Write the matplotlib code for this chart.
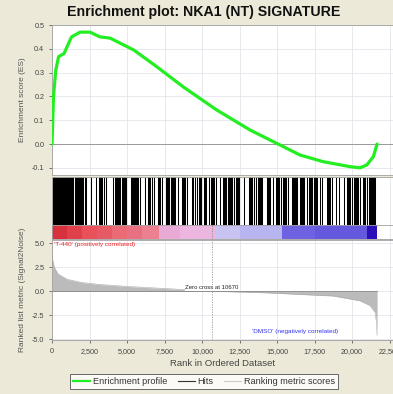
import matplotlib
matplotlib.use("Agg")
import matplotlib.pyplot as plt
from matplotlib.lines import Line2D
import numpy as np

plt.rcParams['font.family'] = ['Liberation Sans', 'DejaVu Sans']

# ---------------- data ----------------
title = "Enrichment plot: NKA1 (NT) SIGNATURE"
n_genes = 21670
zero_cross = 10670

es_rank = [0, 100, 250, 440, 800, 1300, 1870, 2530, 3200, 3870, 5450, 6980, 8750,
           10980, 13200, 15200, 16530, 18070, 19870, 20530, 20980, 21420, 21670]
es_value = [0.0, 0.2, 0.31, 0.367, 0.38, 0.45, 0.47, 0.47, 0.45, 0.445, 0.395, 0.325,
            0.24, 0.143, 0.059, -0.004, -0.046, -0.074, -0.095, -0.10, -0.088,
            -0.053, 0.0]

hits = [50, 110, 170, 230, 290, 350, 410, 480, 560, 620, 680, 740, 800, 860, 920,
        980, 1040, 1100, 1160, 1220, 1280, 1340, 1400, 1510, 1620, 1680, 1740, 1800,
        1860, 1920, 1980, 2080, 2180, 2250, 2600, 2900, 3150, 3220, 3290, 3350, 3480,
        3580, 4050, 4200, 4270, 4340, 4410, 4470, 4560, 4650, 4720, 4800, 4880, 4960,
        5250, 5320, 5400, 5480, 5550, 5620, 5690, 5760, 5870, 6200, 6420, 6490, 6560,
        6640, 6800, 7080, 7150, 7220, 7350, 7570, 7640, 7710, 7780, 7900, 8020, 8090,
        8160, 8220, 8400, 8640, 8710, 8780, 8850, 9000, 9350, 9420, 9500, 9650, 9780,
        9850, 9930, 10120, 10200, 10280, 10450, 10570, 10640, 10710, 10770, 10900,
        11200, 11370, 11440, 11510, 11580, 11700, 11820, 11890, 11960, 12020, 12130,
        12260, 12330, 12400, 12470, 12800, 13150, 13220, 13290, 13360, 13440, 13580,
        13700, 13770, 13840, 13910, 14020, 14330, 14400, 14470, 14540, 14700, 14930,
        15000, 15070, 15130, 15250, 15370, 15440, 15510, 15570, 15700, 15970, 16040,
        16110, 16180, 16250, 16330, 16550, 16620, 16690, 16760, 16830, 16970, 17100,
        17170, 17240, 17310, 17450, 17550, 17620, 17690, 17850, 18000, 18330, 18400,
        18470, 18530, 18650, 18900, 19150, 19450, 19660, 19730, 19800, 19860, 19980,
        20100, 20170, 20240, 20310, 20390, 20550, 20720, 20790, 20860, 20980, 21100,
        21170, 21240, 21310, 21380, 21450, 21520]

metric_rank = [0, 40, 150, 400, 1000, 2000, 3200, 5000, 7650, 10670, 14300, 18750,
               20530, 21200, 21530, 21620, 21670]
metric_value = [4.6, 3.3, 2.5, 1.8, 1.25, 0.9, 0.7, 0.5, 0.27, 0.0, -0.17, -0.5,
                -1.0, -1.5, -2.2, -3.2, -4.6]

strip_edges = [0, 1000, 2000, 3000, 4000, 5000, 6000, 7100, 8500, 10870,
               12500, 15300, 17500, 21000, 21670]
strip_colors = ["#D8303C", "#E0404A", "#E8505A", "#E65A66", "#EA6A76", "#E87080",
                "#EC8090", "#EAAAD6", "#ECB6E0", "#C8C4F2", "#B8B4F0", "#6E62E2",
                "#6458DC", "#2A10B8"]

xticks = [0, 2500, 5000, 7500, 10000, 12500, 15000, 17500, 20000, 22500]
xtick_labels = ["0", "2,500", "5,000", "7,500", "10,000", "12,500", "15,000",
                "17,500", "20,000", "22,500"]
es_ticks = [-0.1, 0.0, 0.1, 0.2, 0.3, 0.4, 0.5]
metric_ticks = [-5.0, -2.5, 0.0, 2.5, 5.0]

# ---------------- figure ----------------
W, H = 393, 394
fig = plt.figure(figsize=(W / 100, H / 100), dpi=100)
fig.patch.set_facecolor("#ECE9D8")

def frac(x0, y0, x1, y1):
    return [x0 / W, 1 - y1 / H, (x1 - x0) / W, (y1 - y0) / H]

XMAX = 22730
grid_c = "#E4E4EC"
spine_c = "#A0A0A0"
tick_c = "#444444"

def style(ax):
    ax.set_facecolor("white")
    for s in ax.spines.values():
        s.set_color(spine_c)
        s.set_linewidth(0.6)
    ax.tick_params(colors=tick_c, labelsize=5.2, length=2, width=0.5)
    ax.set_xlim(0, XMAX)
    ax.set_xticks(xticks)
    for v in xticks:
        ax.axvline(v, color=grid_c, lw=0.6, zorder=0)

# ES panel
ax1 = fig.add_axes(frac(52, 25, 393, 175))
style(ax1)
ax1.set_ylim(-0.13, 0.5)
ax1.set_yticks(es_ticks)
ax1.set_yticklabels(["%.1f" % v for v in es_ticks])
for v in es_ticks:
    ax1.axhline(v, color=grid_c, lw=0.6, zorder=0)
ax1.axhline(0, color="#999999", lw=0.7, zorder=1)
ax1.tick_params(labelbottom=False, bottom=False)
ax1.plot(es_rank, es_value, color="#22EE22", lw=2.3, zorder=3,
         solid_capstyle="round", solid_joinstyle="round")
ax1.set_ylabel("Enrichment score (ES)", fontsize=6, color="#555555", labelpad=4)
fig.text(204 / W, 1 - 12 / H, title, fontsize=10.2, fontweight="bold",
         color="#111111", ha="center", va="center")

# Hits panel
ax2 = fig.add_axes(frac(52, 177, 393, 225))
style(ax2)
ax2.set_ylim(0, 1)
ax2.set_yticks([])
ax2.tick_params(labelbottom=False, bottom=False)
ax2.vlines(hits, 0, 1, color="black", lw=0.75)

# colour strip
ax3 = fig.add_axes(frac(52, 225, 393, 239))
style(ax3)
ax3.set_ylim(0, 1)
ax3.set_yticks([])
ax3.tick_params(labelbottom=False, bottom=False)
for i, c in enumerate(strip_colors):
    ax3.axvspan(strip_edges[i], strip_edges[i + 1], color=c, lw=0, zorder=2)
ax3.axvline(zero_cross, color="#888888", lw=0.6, ls=(0, (1.5, 1.5)), zorder=3)

# Ranked metric panel
ax4 = fig.add_axes(frac(52, 240, 393, 340))
style(ax4)
ax4.set_ylim(-5.1, 5.35)
ax4.set_yticks(metric_ticks)
ax4.set_yticklabels(["%.1f" % v for v in metric_ticks])
for v in metric_ticks:
    ax4.axhline(v, color=grid_c, lw=0.6, zorder=0)
ax4.set_xticklabels(xtick_labels)
ax4.fill_between(metric_rank, metric_value, 0, color="#BBBBBB", lw=0, zorder=2)
ax4.plot(metric_rank, metric_value, color="#AAAAAA", lw=0.4, zorder=2)
ax4.axhline(0, xmin=0, xmax=n_genes / XMAX, color="#777777", lw=0.5, zorder=2)
ax4.axvline(zero_cross, color="#999999", lw=0.6, ls=(0, (1.5, 1.5)), zorder=1)
ax4.set_xlabel("Rank in Ordered Dataset", fontsize=6.8, color="#444444", labelpad=3)
ax4.set_ylabel("Ranked list metric (Signal2Noise)", fontsize=6, color="#555555", labelpad=4)
ax4.text(150, 4.9, "'T-440' (positively correlated)", color="#EE2222",
         fontsize=4.6, va="center", ha="left")
ax4.text(zero_cross, 0.35, "Zero cross at %d" % zero_cross, color="#222222",
         fontsize=4.3, va="center", ha="center",
         bbox=dict(facecolor="white", edgecolor="none", pad=0.3))
ax4.text(19100, -4.2, "'DMSO' (negatively correlated)", color="#3333EE",
         fontsize=4.6, va="center", ha="right")

# Legend
handles = [Line2D([], [], color="#22EE22", lw=1.6),
           Line2D([], [], color="#333333", lw=0.8),
           Line2D([], [], color="#CCCCCC", lw=0.8)]
labels = ["Enrichment profile", "Hits", "Ranking metric scores"]
leg = fig.legend(handles, labels, loc="center", bbox_to_anchor=(204 / W, 1 - 381.5 / H),
                 ncol=3, fontsize=6.6, frameon=True, handlelength=1.8, handletextpad=0.3,
                 columnspacing=1.2, borderpad=0.35, fancybox=False)
leg.get_frame().set_edgecolor("#444444")
leg.get_frame().set_linewidth(0.7)
leg.get_frame().set_facecolor("white")
for t in leg.get_texts():
    t.set_color("#333333")

fig.savefig("out.png", dpi=100, facecolor=fig.get_facecolor())
